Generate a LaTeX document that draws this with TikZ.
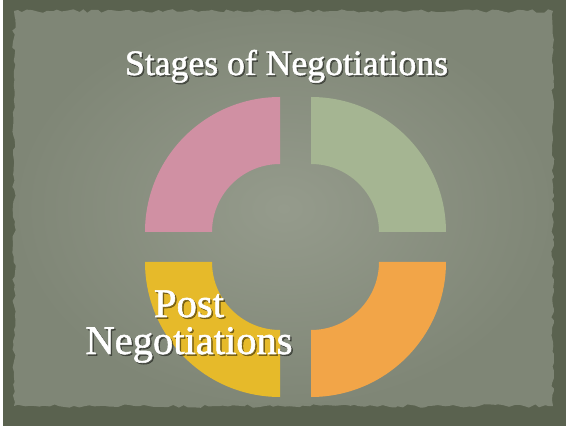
\documentclass[tikz,border=0pt]{standalone}
\usepackage{fontspec}
\setmainfont{Liberation Serif}
\newfontfamily\slidefont[FakeBold=1.4]{Liberation Serif}
\usetikzlibrary{decorations.pathmorphing,calc}
\definecolor{frameC}{HTML}{5A624F}
\definecolor{paperIn}{HTML}{959B8C}
\definecolor{paperOut}{HTML}{7F8676}
\definecolor{segPink}{HTML}{D090A3}
\definecolor{segGreen}{HTML}{A5B592}
\definecolor{segOrange}{HTML}{F2A548}
\definecolor{segYellow}{HTML}{E6BA2A}
\tikzset{
  ringseg/.style={draw=none},
  lbl/.style={inner sep=0pt, anchor=base, text=white, font=\slidefont},
  lblshadow/.style={lbl, text=black, opacity=0.4},
}
\newcommand{\ringpart}[3]{% center, start angle, colour
  \fill[ringseg,#3] (#1) ++(#2:135pt) arc[start angle=#2, delta angle=90, radius=135pt]
    -- ($(#1)+({#2+90}:68pt)$) arc[start angle={#2+90}, delta angle=-90, radius=68pt] -- cycle;
}
\newcommand{\twolines}[2]{\vbox{\baselineskip=37pt\lineskiplimit=-1000pt\lineskip=0pt
  \halign{\hfil##\hfil\cr#1\cr#2\cr}}}
\newcommand{\postlabel}{\twolines{\resizebox{70pt}{!}{Post}}{\resizebox{207pt}{!}{Negotiations}}}
\begin{document}
\begin{tikzpicture}[x=1pt,y=1pt]
\useasboundingbox (0,0) rectangle (566,426);
\fill[frameC] (0,0) rectangle (566,426);
\fill[white] (0,0) rectangle (3,426);
\shade[inner color=paperIn, outer color=paperOut,
  decorate, decoration={random steps, segment length=5pt, amplitude=1.8pt}]
  (14,20) -- (553,20) -- (553,415) -- (14,415) -- cycle;
% ring segments
\coordinate (cTL) at (280,194);
\coordinate (cTR) at (311,194);
\coordinate (cBL) at (280,164);
\coordinate (cBR) at (311,164);
\ringpart{cTL}{90}{segPink}
\ringpart{cTR}{0}{segGreen}
\ringpart{cBR}{270}{segOrange}
\ringpart{cBL}{180}{segYellow}
% title
\node[lblshadow] (titleS) at (288,349.5) {\resizebox{323pt}{!}{Stages of Negotiations}};
\node[lbl] (title) at (286.5,351) {\resizebox{323pt}{!}{Stages of Negotiations}};
% label
\node[lblshadow] (postS) at (190.5,70.5) {\postlabel};
\node[lbl] (post) at (189,72) {\postlabel};
\end{tikzpicture}
\end{document}
